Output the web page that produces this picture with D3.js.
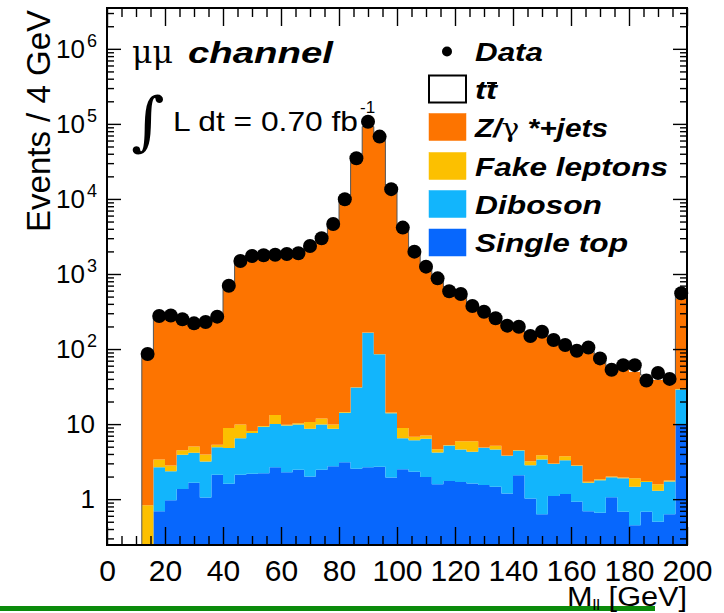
<!DOCTYPE html>
<html>
<head>
<meta charset="utf-8">
<script src="https://cdn.jsdelivr.net/npm/d3@7"></script>
<style>
  html, body { margin: 0; padding: 0; background: #ffffff; }
  svg { display: block; }
</style>
</head>
<body>
<svg id="chart" width="724" height="613"></svg>
<script>
// Dimuon invariant mass, 4 GeV bins from 12 to 200 GeV (last bin holds overflow)
const binLow = 12;
const binWidth = 4;

const dataCounts = [86, 275, 280, 249, 220, 229, 270, 698, 1490, 1740,
  1775, 1808, 1848, 1890, 2362, 2990, 4640, 9900, 34900, 107000,
  67700, 13500, 4150, 1985, 1253, 875, 590, 541, 374, 314,
  257, 205, 198, 149, 170, 132, 113, 95, 105, 75,
  53, 61, 61, 38, 48, 40, 553];

const ttbar = [0.4, 0.9, 1.3, 1.7, 2.0, 2.4, 2.8, 3.1, 3.4, 3.6,
  3.8, 4.0, 4.2, 4.4, 4.6, 4.7, 4.8, 4.9, 5.0, 5.0,
  5.1, 5.1, 5.1, 5.0, 5.0, 5.0, 4.9, 4.8, 4.8, 4.7,
  4.6, 4.5, 4.4, 4.3, 4.2, 4.1, 4.0, 3.9, 3.8, 3.7,
  3.6, 3.5, 3.4, 3.3, 3.2, 3.1, 38];

const zjets = [84, 252, 256, 232, 210, 214, 248, 676, 1480, 1700,
  1740, 1770, 1805, 1850, 2260, 2900, 4560, 9600, 34300, 91800,
  62900, 12950, 3980, 1890, 1190, 822, 553, 492, 343, 284,
  234, 187, 175, 136, 146, 118, 99, 86, 88, 66,
  53, 52, 48, 40, 37, 35, 440];

const fakes = [0.83, 0.71, 0.45, 0.6, 0.89, 0.77, 0.37, 4.06, 3.4, 0.47,
  0.2, 3.2, 0.2, 0.4, 2.0, 2.0, 1.2, 0.3, 0.2, 1.0,
  1.0, 0.3, 2.35, 0.7, 0.7, 0.45, 0.05, 1.33, 1.66, 0.05,
  0.54, 0.05, 0.05, 0.37, 0.48, 0.05, 0.43, 0.05, 0.05, 0.05,
  0.05, 0.05, 0.44, 0.05, 0.29, 0.05, 0.3];

const diboson = [0, 1.98, 1.39, 2.53, 2.5, 2.13, 2.82, 3.19, 4.39, 5.42,
  6.98, 7.33, 7.31, 7.44, 6.7, 7.44, 5.95, 11.09, 28.26, 162.3,
  82.3, 12.05, 4.0, 3.79, 4.39, 2.61, 3.46, 2.91, 2.65, 3.29,
  3.14, 2.59, 2.37, 1.82, 2.75, 1.83, 2.14, 1.86, 0.96, 1.13,
  0.9, 1.22, 1.01, 1.01, 0.79, 1.09, 19.1];

const singleTop = [0, 0.69, 0.97, 1.37, 1.65, 1.05, 2.11, 1.6, 2.11, 2.18,
  2.22, 2.67, 2.29, 2.46, 2.0, 2.46, 2.75, 3.11, 2.54, 2.67,
  2.7, 1.95, 2.5, 2.31, 1.98, 1.58, 1.74, 1.69, 1.62, 1.54,
  1.46, 1.19, 2.09, 1.02, 0.63, 1.1, 1.17, 0.92, 0.69, 0.66,
  1.06, 0.68, 0.45, 0.68, 0.5, 0.63, 9.9];

const xTickValues = [0, 20, 40, 60, 80, 100, 120, 140, 160, 180, 200];
const xTickLabels = ["0", "20", "40", "60", "80", "100", "120", "140", "160", "180", "200"];
const yTickValues = [1, 10, 1e2, 1e3, 1e4, 1e5, 1e6];
const yTickBase = ["1", "10", "10", "10", "10", "10", "10"];
const yTickExp = ["", "", "2", "3", "4", "5", "6"];

const legendLabels = ["Data", "tt", "Z/γ *+jets", "Fake leptons", "Diboson", "Single top"];

// ---------------------------------------------------------------------------
const SANS = "'Liberation Sans', Arial, Helvetica, sans-serif";
const SERIF = "'DejaVu Serif', 'Liberation Serif', serif";

const colors = {
  singleTop: "#0767fd",
  diboson: "#12b5fc",
  fakes: "#fcc000",
  zjets: "#fd7400",
  ttbar: "#ffffff"
};

const svg = d3.select("#chart");
const plot = { left: 107, right: 687, top: 8, bottom: 545 };

const x = d3.scaleLinear().domain([0, 200]).range([plot.left, plot.right]);
const y = d3.scaleLog().domain([0.245, 3.5e6]).range([plot.bottom, plot.top]);
const yFloor = y.domain()[0] * 0.5;
const clampV = v => Math.max(v, yFloor);

const nBins = dataCounts.length;
const edges = d3.range(nBins + 1).map(i => binLow + binWidth * i);
const rows = d3.range(nBins).map(i => ({
  singleTop: singleTop[i], diboson: diboson[i], fakes: fakes[i],
  zjets: zjets[i], ttbar: ttbar[i]
}));
const keys = ["singleTop", "diboson", "fakes", "zjets", "ttbar"];
const series = d3.stack().keys(keys)(rows);

svg.append("defs").append("clipPath").attr("id", "plotClip")
  .append("rect")
  .attr("x", plot.left).attr("y", plot.top)
  .attr("width", plot.right - plot.left).attr("height", plot.bottom - plot.top);

const gHist = svg.append("g").attr("clip-path", "url(#plotClip)");

// stacked step areas
const area = d3.area().curve(d3.curveStepAfter)
  .x(d => x(d.x))
  .y0(d => y(clampV(d.y0)))
  .y1(d => y(clampV(d.y1)));

series.forEach(s => {
  const pts = s.map((p, i) => ({ x: edges[i], y0: p[0], y1: p[1] }));
  pts.push({ x: edges[nBins], y0: s[nBins - 1][0], y1: s[nBins - 1][1] });
  gHist.append("path").attr("d", area(pts)).attr("fill", colors[s.key]);
});

// outline of the full stack (top histogram)
const stackTop = series[series.length - 1];
const outlinePts = [{ x: edges[0], v: yFloor }]
  .concat(stackTop.map((p, i) => ({ x: edges[i], v: p[1] })))
  .concat([{ x: edges[nBins], v: stackTop[nBins - 1][1] }]);
gHist.append("path")
  .attr("d", d3.line().curve(d3.curveStepAfter).x(d => x(d.x)).y(d => y(clampV(d.v)))(outlinePts))
  .attr("fill", "none").attr("stroke", "#555").attr("stroke-width", 1);

// ---------------------------------------------------------------------------
// axes ticks on all four sides
const xMinor = d3.range(0, 201, 5).filter(v => v % 20 !== 0);
const yMinor = [];
for (let e = -1; e <= 6; e++) for (let m = 2; m <= 9; m++) {
  const v = m * Math.pow(10, e);
  if (v > y.domain()[0] && v < y.domain()[1]) yMinor.push(v);
}

function styleAxis(g) {
  g.select(".domain").remove();
  g.selectAll(".tick line").attr("stroke", "#000").attr("stroke-width", 1.4);
}

svg.append("g").attr("transform", `translate(0,${plot.bottom})`)
  .call(d3.axisBottom(x).tickValues(xTickValues).tickSize(-18).tickPadding(15)
    .tickFormat((d, i) => xTickLabels[i]))
  .call(styleAxis)
  .call(g => g.selectAll("text").attr("font-family", SANS).attr("font-size", 30).attr("fill", "#000"));
svg.append("g").attr("transform", `translate(0,${plot.bottom})`)
  .call(d3.axisBottom(x).tickValues(xMinor).tickSize(-9).tickFormat(""))
  .call(styleAxis);
svg.append("g").attr("transform", `translate(0,${plot.top})`)
  .call(d3.axisTop(x).tickValues(xTickValues).tickSize(-18).tickFormat(""))
  .call(styleAxis);
svg.append("g").attr("transform", `translate(0,${plot.top})`)
  .call(d3.axisTop(x).tickValues(xMinor).tickSize(-9).tickFormat(""))
  .call(styleAxis);

svg.append("g").attr("transform", `translate(${plot.left},0)`)
  .call(d3.axisLeft(y).tickValues(yTickValues).tickSize(-14).tickFormat(""))
  .call(styleAxis);
svg.append("g").attr("transform", `translate(${plot.left},0)`)
  .call(d3.axisLeft(y).tickValues(yMinor).tickSize(-7).tickFormat(""))
  .call(styleAxis);
svg.append("g").attr("transform", `translate(${plot.right},0)`)
  .call(d3.axisRight(y).tickValues(yTickValues).tickSize(-14).tickFormat(""))
  .call(styleAxis);
svg.append("g").attr("transform", `translate(${plot.right},0)`)
  .call(d3.axisRight(y).tickValues(yMinor).tickSize(-7).tickFormat(""))
  .call(styleAxis);

// y tick labels with superscript exponents
yTickValues.forEach((v, i) => {
  const t = svg.append("text")
    .attr("x", yTickExp[i] ? 97 : 95)
    .attr("y", y(v) + 9)
    .attr("text-anchor", "end")
    .attr("font-family", SANS).attr("font-size", 26).attr("fill", "#000");
  t.append("tspan").text(yTickBase[i]);
  if (yTickExp[i]) {
    t.append("tspan").attr("font-size", 18).attr("dy", -11).attr("dx", 2).text(yTickExp[i]);
  }
});

// frame
svg.append("rect")
  .attr("x", plot.left).attr("y", plot.top)
  .attr("width", plot.right - plot.left).attr("height", plot.bottom - plot.top)
  .attr("fill", "none").attr("stroke", "#000").attr("stroke-width", 2);

// data points
svg.append("g").selectAll("circle")
  .data(dataCounts)
  .join("circle")
  .attr("cx", (d, i) => x(edges[i] + binWidth / 2))
  .attr("cy", d => y(d))
  .attr("r", 7)
  .attr("fill", "#000");

// ---------------------------------------------------------------------------
// axis titles
svg.append("text")
  .attr("transform", "translate(50,10) rotate(-90)")
  .attr("text-anchor", "end")
  .attr("font-family", SANS).attr("font-size", 33).attr("fill", "#000")
  .text("Events / 4 GeV");

// green rule along the bottom
svg.append("rect")
  .attr("x", 0).attr("y", 606).attr("width", 655).attr("height", 5)
  .attr("fill", "#0b8b0b");

const xTitle = svg.append("text")
  .attr("x", 687).attr("y", 606)
  .attr("text-anchor", "end")
  .attr("font-family", SANS).attr("font-size", 27).attr("fill", "#000")
  .attr("textLength", 120).attr("lengthAdjust", "spacingAndGlyphs");
xTitle.append("tspan").text("M");
xTitle.append("tspan").attr("font-size", 15).attr("dy", 4).text("ll");
xTitle.append("tspan").attr("dy", -4).text(" [GeV]");

// channel and luminosity labels
svg.append("text")
  .attr("x", 132).attr("y", 63)
  .attr("font-family", SERIF).attr("font-size", 31).attr("fill", "#000")
  .attr("textLength", 41).attr("lengthAdjust", "spacingAndGlyphs")
  .text("μμ");
svg.append("text")
  .attr("x", 188).attr("y", 63)
  .attr("font-family", SANS).attr("font-size", 30).attr("font-weight", "bold")
  .attr("font-style", "italic").attr("fill", "#000")
  .attr("textLength", 145).attr("lengthAdjust", "spacingAndGlyphs")
  .text("channel");

svg.append("text")
  .attr("x", 131).attr("y", 143)
  .attr("font-family", SERIF).attr("font-size", 64).attr("fill", "#000")
  .text("∫");
svg.append("text")
  .attr("x", 173).attr("y", 131)
  .attr("font-family", SANS).attr("font-size", 28).attr("fill", "#000")
  .attr("textLength", 185).attr("lengthAdjust", "spacingAndGlyphs")
  .text("L dt = 0.70 fb");
svg.append("text")
  .attr("x", 360).attr("y", 113)
  .attr("font-family", SANS).attr("font-size", 17).attr("fill", "#000")
  .text("-1");

// ---------------------------------------------------------------------------
// legend
const rowY = [51.5, 89, 127, 166, 204, 242.5];
const legendWidths = [68, 22, 133, 193, 127, 153];
const legendFills = [null, colors.ttbar, colors.zjets, colors.fakes, colors.diboson, colors.singleTop];
const gLeg = svg.append("g");

gLeg.append("circle").attr("cx", 447).attr("cy", rowY[0]).attr("r", 5).attr("fill", "#000");

legendLabels.forEach((lab, i) => {
  if (i > 0) {
    gLeg.append("rect")
      .attr("x", 429).attr("y", rowY[i] - 13.5)
      .attr("width", 37).attr("height", 27)
      .attr("fill", legendFills[i])
      .attr("stroke", i === 1 ? "#000" : legendFills[i])
      .attr("stroke-width", i === 1 ? 2 : 0.5);
  }
  const t = gLeg.append("text")
    .attr("x", 475).attr("y", rowY[i] + 9.5)
    .attr("font-family", SANS).attr("font-size", 26)
    .attr("font-weight", "bold").attr("font-style", "italic").attr("fill", "#000")
    .attr("textLength", legendWidths[i]).attr("lengthAdjust", "spacingAndGlyphs");
  if (lab.includes("γ")) {
    const parts = lab.split("γ");
    t.append("tspan").text(parts[0]);
    t.append("tspan").attr("font-family", SERIF).attr("font-weight", "normal")
      .attr("font-style", "normal").text("γ");
    t.append("tspan").text(parts[1]);
  } else {
    t.text(lab);
  }
});
// bar over the second t of t-tbar
gLeg.append("line")
  .attr("x1", 487).attr("x2", 497)
  .attr("y1", rowY[1] - 6).attr("y2", rowY[1] - 6)
  .attr("stroke", "#000").attr("stroke-width", 2);
</script>
</body>
</html>
